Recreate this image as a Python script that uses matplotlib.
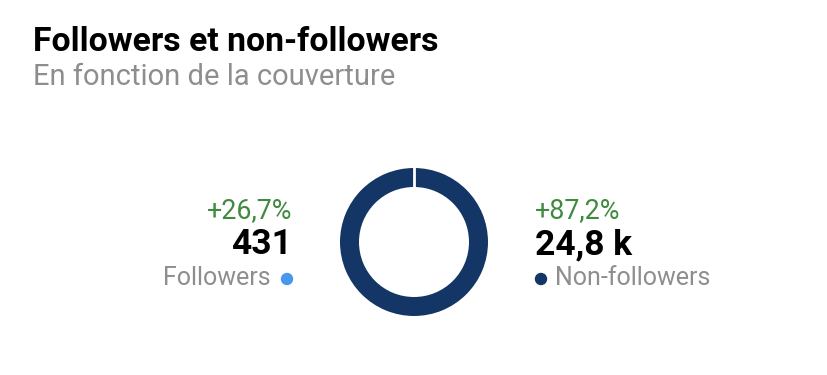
import matplotlib
matplotlib.use("Agg")
import matplotlib.pyplot as plt
from matplotlib.patches import Ellipse

plt.rcParams["font.family"] = ["Roboto", "DejaVu Sans"]

title = "Followers et non-followers"
subtitle = "En fonction de la couverture"

labels = ["Followers", "Non-followers"]
counts = [431, 24800]
count_labels = ["431", "24,8 k"]
changes = ["+26,7%", "+87,2%"]
colors = ["#4a98ee", "#143666"]

W, H = 828, 375
GREEN = "#3f8a3f"
GRAY = "#8e8e8e"


def px(x, y):
    # pixel coords (top-left origin) -> figure fraction
    return x / W, 1 - y / H


def dot(x, y, color, d=11):
    fig.add_artist(Ellipse(px(x, y), d / W, d / H, transform=fig.transFigure,
                           color=color))


fig = plt.figure(figsize=(W / 100, H / 100), dpi=100)

fig.text(*px(33, 42), title, fontsize=24.3, fontweight="bold", color="black", va="center")
fig.text(*px(33, 77), subtitle, fontsize=21, color=GRAY, va="center")

# donut: only the non-followers ring is visible, seam at the top
cx, cy, r = 414, 242, 74
ring = 19 / 74
ax = fig.add_axes([(cx - r) / W, (H - cy - r) / H, 2 * r / W, 2 * r / H])
ax.pie([counts[1]], colors=[colors[1]], startangle=90, counterclock=False,
       radius=1, wedgeprops=dict(width=ring))
ax.plot([0, 0], [1 - ring - 0.02, 1.02], color="white", linewidth=2)
ax.set_aspect("equal")
ax.set_xlim(-1.0, 1.0)
ax.set_ylim(-1.0, 1.0)
ax.axis("off")

# left block (followers)
xl = 292
fig.text(*px(xl, 211), changes[0], fontsize=19.4, color=GREEN, ha="right", va="center")
fig.text(*px(xl, 245), count_labels[0], fontsize=25.5, fontweight="bold", color="black",
         ha="right", va="center")
fig.text(*px(xl - 21, 278), labels[0], fontsize=18, color=GRAY, ha="right", va="center")
dot(287, 279, colors[0])

# right block (non-followers)
xr = 535
fig.text(*px(xr, 211), changes[1], fontsize=19.4, color=GREEN, ha="left", va="center")
fig.text(*px(xr, 245), count_labels[1], fontsize=25.5, fontweight="bold", color="black",
         ha="left", va="center")
fig.text(*px(xr + 20, 278), labels[1], fontsize=18, color=GRAY, ha="left", va="center")
dot(541, 279, colors[1])

fig.savefig("out.png", dpi=100)
